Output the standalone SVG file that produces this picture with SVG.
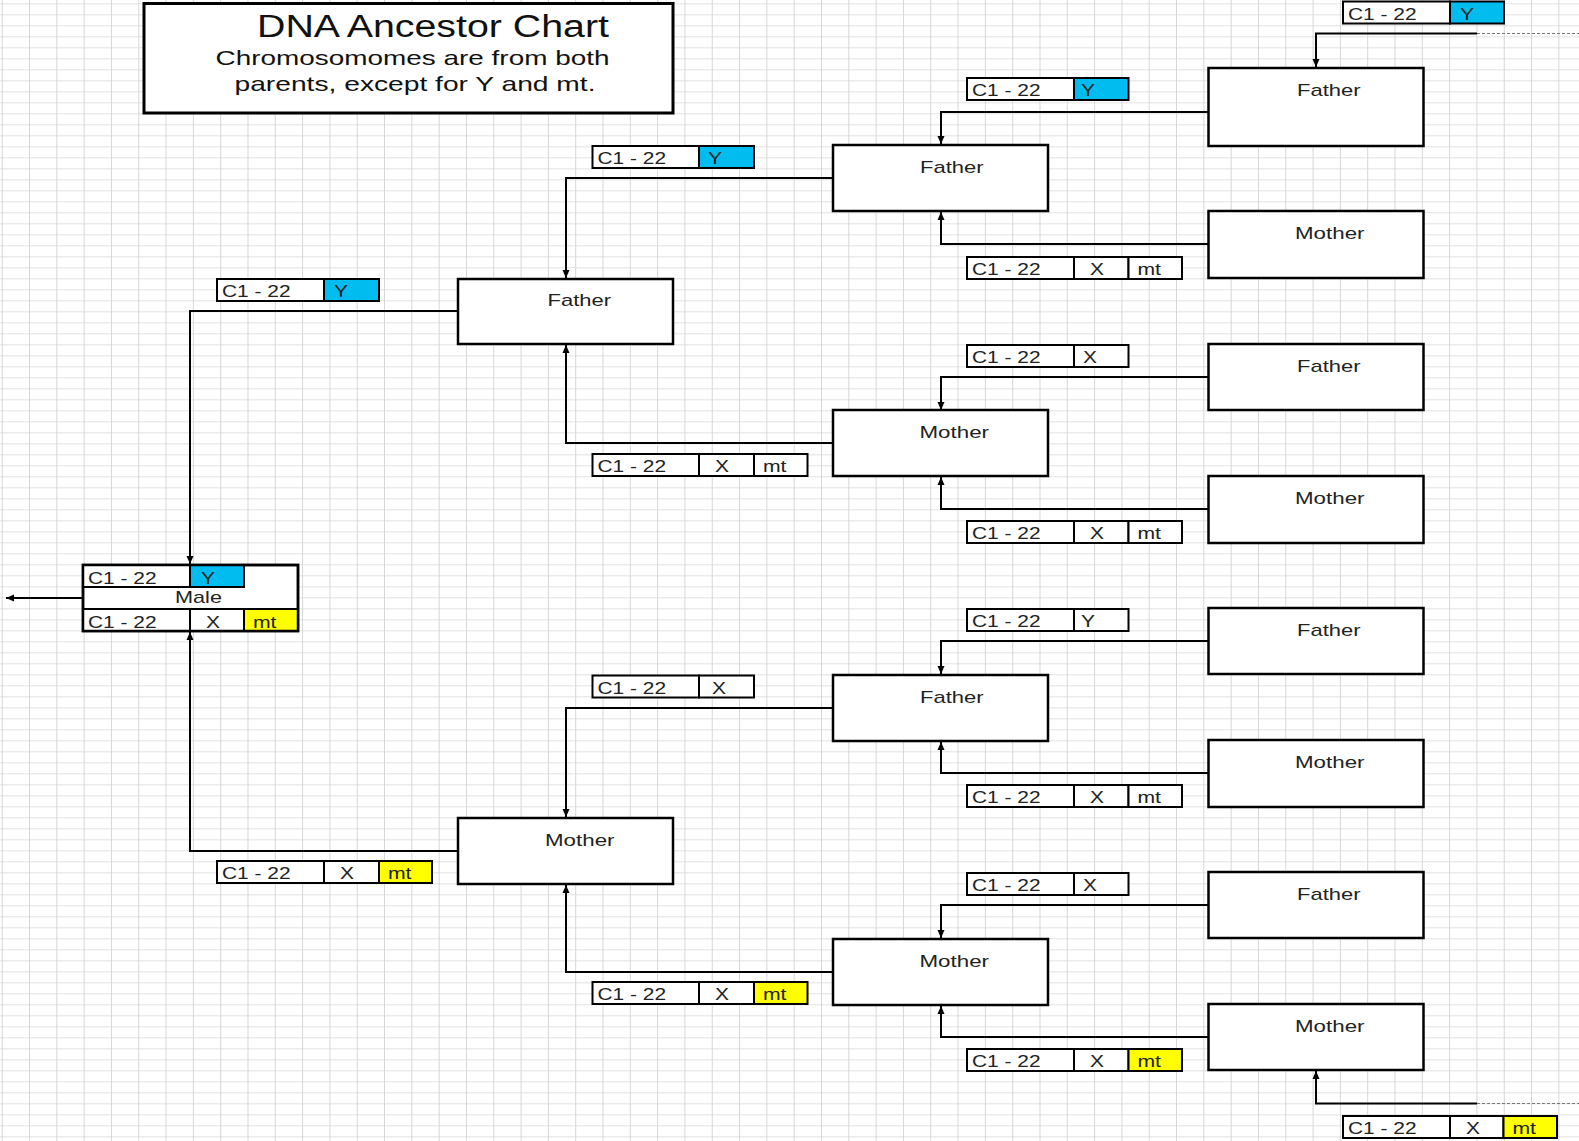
<svg xmlns="http://www.w3.org/2000/svg" width="1579" height="1141" viewBox="0 0 1579 1141">
<defs>
<style>
.box{fill:#fff;stroke:#000;stroke-width:2.5}
.cell{fill:#fff;stroke:#000;stroke-width:2}
.cell.blue{fill:#00BCEF}
.cell.yellow{fill:#FFFF00}
.t{font-family:"Liberation Sans",Arial,sans-serif;font-size:17px;fill:#222}
.conn{fill:none;stroke:#000;stroke-width:2}
.dash{fill:none;stroke:#777;stroke-width:1;stroke-dasharray:3 2}
</style>
<pattern id="grid" x="1.7" y="3.3" width="27.31" height="11" patternUnits="userSpaceOnUse">
<path d="M0,0.5 H27.31" stroke="#e2e2e2" stroke-width="1"/>
<path d="M0.5,0 V11" stroke="#d6d6d6" stroke-width="1"/>
</pattern>
<marker id="arr" markerWidth="9" markerHeight="8" refX="8" refY="4" orient="auto" markerUnits="userSpaceOnUse">
<path d="M0,0.5 L8,4 L0,7.5 z" fill="#000"/>
</marker>
</defs>
<rect width="1579" height="1141" fill="#fff"/>
<rect width="1579" height="1141" fill="url(#grid)"/>

<g id="connectors">
<path class="conn" d="M83,598 H6" marker-end="url(#arr)"/>
<path class="conn" d="M458,311 H190 V564" marker-end="url(#arr)"/>
<path class="conn" d="M458,851 H190 V632" marker-end="url(#arr)"/>
<path class="conn" d="M833,178 H566 V278" marker-end="url(#arr)"/>
<path class="conn" d="M833,443 H566 V345" marker-end="url(#arr)"/>
<path class="conn" d="M833,708 H566 V817" marker-end="url(#arr)"/>
<path class="conn" d="M833,972 H566 V885" marker-end="url(#arr)"/>
<path class="conn" d="M1208,112 H941 V144" marker-end="url(#arr)"/>
<path class="conn" d="M1208,244 H941 V212" marker-end="url(#arr)"/>
<path class="conn" d="M1208,377 H941 V410" marker-end="url(#arr)"/>
<path class="conn" d="M1208,509 H941 V477" marker-end="url(#arr)"/>
<path class="conn" d="M1208,641 H941 V674" marker-end="url(#arr)"/>
<path class="conn" d="M1208,773 H941 V742" marker-end="url(#arr)"/>
<path class="conn" d="M1208,905 H941 V938" marker-end="url(#arr)"/>
<path class="conn" d="M1208,1037 H941 V1006" marker-end="url(#arr)"/>
<path class="conn" d="M1477,33.5 H1316 V67" marker-end="url(#arr)"/>
<path class="conn" d="M1477,1103.5 H1316 V1071" marker-end="url(#arr)"/>
<path class="dash" d="M1477,33.5 H1579"/>
<path class="dash" d="M1477,1103.5 H1579"/>
</g>

<g id="title">
<rect x="144" y="3.5" width="529" height="109.5" fill="#fff" stroke="#000" stroke-width="3"/>
<text x="257" y="37" font-family="Liberation Sans,Arial,sans-serif" font-size="31" fill="#111" textLength="352" lengthAdjust="spacingAndGlyphs">DNA Ancestor Chart</text>
<text x="215.5" y="64.5" font-family="Liberation Sans,Arial,sans-serif" font-size="21" fill="#111" textLength="394" lengthAdjust="spacingAndGlyphs">Chromosomomes are from both</text>
<text x="234.5" y="90.5" font-family="Liberation Sans,Arial,sans-serif" font-size="21" fill="#111" textLength="361" lengthAdjust="spacingAndGlyphs">parents, except for Y and mt.</text>
</g>

<g id="male">
<rect class="box" x="83" y="565" width="215" height="66"/>
<rect class="cell" x="83" y="565" width="107" height="22"/>
<rect class="cell blue" x="190" y="565" width="54" height="22"/>
<rect class="cell" x="83" y="609" width="107" height="22"/>
<rect class="cell" x="190" y="609" width="54" height="22"/>
<rect class="cell yellow" x="244" y="609" width="54" height="22"/>
<rect x="83" y="565" width="215" height="66" fill="none" stroke="#000" stroke-width="2.5"/>
<text class="t" x="88" y="584" textLength="68.5" lengthAdjust="spacingAndGlyphs">C1 - 22</text>
<text class="t" x="201" y="584" textLength="14" lengthAdjust="spacingAndGlyphs">Y</text>
<text class="t" x="175" y="603" textLength="47" lengthAdjust="spacingAndGlyphs">Male</text>
<text class="t" x="88" y="628" textLength="68.5" lengthAdjust="spacingAndGlyphs">C1 - 22</text>
<text class="t" x="206" y="628" textLength="14" lengthAdjust="spacingAndGlyphs">X</text>
<text class="t" x="253" y="628" textLength="23.5" lengthAdjust="spacingAndGlyphs">mt</text>
</g>

<g id="g1-father">
<rect class="box" x="458" y="279" width="215" height="65"/>
<text class="t" x="547.5" y="306" textLength="63.5" lengthAdjust="spacingAndGlyphs">Father</text>
</g>
<g id="g1-mother">
<rect class="box" x="458" y="818" width="215" height="66"/>
<text class="t" x="545" y="846" textLength="69.5" lengthAdjust="spacingAndGlyphs">Mother</text>
</g>

<g id="g2-father-1">
<rect class="box" x="833" y="145" width="215" height="66"/>
<text class="t" x="920" y="173" textLength="63.5" lengthAdjust="spacingAndGlyphs">Father</text>
</g>
<g id="g2-mother-1">
<rect class="box" x="833" y="410" width="215" height="66"/>
<text class="t" x="919.5" y="438" textLength="69.5" lengthAdjust="spacingAndGlyphs">Mother</text>
</g>
<g id="g2-father-2">
<rect class="box" x="833" y="675" width="215" height="66"/>
<text class="t" x="920" y="703" textLength="63.5" lengthAdjust="spacingAndGlyphs">Father</text>
</g>
<g id="g2-mother-2">
<rect class="box" x="833" y="939" width="215" height="66"/>
<text class="t" x="919.5" y="967" textLength="69.5" lengthAdjust="spacingAndGlyphs">Mother</text>
</g>

<g id="g3-father-1">
<rect class="box" x="1208.5" y="68" width="215" height="78"/>
<text class="t" x="1297" y="96" textLength="63.5" lengthAdjust="spacingAndGlyphs">Father</text>
</g>
<g id="g3-mother-1">
<rect class="box" x="1208.5" y="211" width="215" height="67"/>
<text class="t" x="1295" y="239" textLength="69.5" lengthAdjust="spacingAndGlyphs">Mother</text>
</g>
<g id="g3-father-2">
<rect class="box" x="1208.5" y="344" width="215" height="66"/>
<text class="t" x="1297" y="372" textLength="63.5" lengthAdjust="spacingAndGlyphs">Father</text>
</g>
<g id="g3-mother-2">
<rect class="box" x="1208.5" y="476" width="215" height="67"/>
<text class="t" x="1295" y="504" textLength="69.5" lengthAdjust="spacingAndGlyphs">Mother</text>
</g>
<g id="g3-father-3">
<rect class="box" x="1208.5" y="608" width="215" height="66"/>
<text class="t" x="1297" y="636" textLength="63.5" lengthAdjust="spacingAndGlyphs">Father</text>
</g>
<g id="g3-mother-3">
<rect class="box" x="1208.5" y="740" width="215" height="67"/>
<text class="t" x="1295" y="768" textLength="69.5" lengthAdjust="spacingAndGlyphs">Mother</text>
</g>
<g id="g3-father-4">
<rect class="box" x="1208.5" y="872" width="215" height="66"/>
<text class="t" x="1297" y="900" textLength="63.5" lengthAdjust="spacingAndGlyphs">Father</text>
</g>
<g id="g3-mother-4">
<rect class="box" x="1208.5" y="1004" width="215" height="66"/>
<text class="t" x="1295" y="1032" textLength="69.5" lengthAdjust="spacingAndGlyphs">Mother</text>
</g>

<g id="lbl-g1-father">
<rect class="cell" x="217" y="279" width="107" height="22"/>
<rect class="cell blue" x="324" y="279" width="55" height="22"/>
<text class="t" x="222" y="297" textLength="68.5" lengthAdjust="spacingAndGlyphs">C1 - 22</text>
<text class="t" x="334" y="297" textLength="14" lengthAdjust="spacingAndGlyphs">Y</text>
</g>
<g id="lbl-g1-mother">
<rect class="cell" x="217" y="861" width="107" height="22"/>
<rect class="cell" x="324" y="861" width="55" height="22"/>
<rect class="cell yellow" x="379" y="861" width="53" height="22"/>
<text class="t" x="222" y="879" textLength="68.5" lengthAdjust="spacingAndGlyphs">C1 - 22</text>
<text class="t" x="340" y="879" textLength="14" lengthAdjust="spacingAndGlyphs">X</text>
<text class="t" x="388" y="879" textLength="23.5" lengthAdjust="spacingAndGlyphs">mt</text>
</g>

<g id="lbl-g2-1">
<rect class="cell" x="592.5" y="146" width="106.5" height="22"/>
<rect class="cell blue" x="699" y="146" width="55" height="22"/>
<text class="t" x="597.5" y="164" textLength="68.5" lengthAdjust="spacingAndGlyphs">C1 - 22</text>
<text class="t" x="708" y="164" textLength="14" lengthAdjust="spacingAndGlyphs">Y</text>
</g>
<g id="lbl-g2-2">
<rect class="cell" x="592.5" y="454" width="106.5" height="22"/>
<rect class="cell" x="699" y="454" width="55" height="22"/>
<rect class="cell" x="754" y="454" width="53.5" height="22"/>
<text class="t" x="597.5" y="472" textLength="68.5" lengthAdjust="spacingAndGlyphs">C1 - 22</text>
<text class="t" x="715" y="472" textLength="14" lengthAdjust="spacingAndGlyphs">X</text>
<text class="t" x="763" y="472" textLength="23.5" lengthAdjust="spacingAndGlyphs">mt</text>
</g>
<g id="lbl-g2-3">
<rect class="cell" x="592.5" y="675.5" width="106.5" height="22"/>
<rect class="cell" x="699" y="675.5" width="55" height="22"/>
<text class="t" x="597.5" y="693.5" textLength="68.5" lengthAdjust="spacingAndGlyphs">C1 - 22</text>
<text class="t" x="712" y="693.5" textLength="14" lengthAdjust="spacingAndGlyphs">X</text>
</g>
<g id="lbl-g2-4">
<rect class="cell" x="592.5" y="982" width="106.5" height="22"/>
<rect class="cell" x="699" y="982" width="55" height="22"/>
<rect class="cell yellow" x="754" y="982" width="53.5" height="22"/>
<text class="t" x="597.5" y="1000" textLength="68.5" lengthAdjust="spacingAndGlyphs">C1 - 22</text>
<text class="t" x="715" y="1000" textLength="14" lengthAdjust="spacingAndGlyphs">X</text>
<text class="t" x="763" y="1000" textLength="23.5" lengthAdjust="spacingAndGlyphs">mt</text>
</g>

<g id="lbl-g3-1">
<rect class="cell" x="967" y="78" width="107" height="22"/>
<rect class="cell blue" x="1074" y="78" width="54.5" height="22"/>
<text class="t" x="972" y="96" textLength="68.5" lengthAdjust="spacingAndGlyphs">C1 - 22</text>
<text class="t" x="1081" y="96" textLength="14" lengthAdjust="spacingAndGlyphs">Y</text>
</g>
<g id="lbl-g3-2">
<rect class="cell" x="967" y="257" width="107" height="22"/>
<rect class="cell" x="1074" y="257" width="54.5" height="22"/>
<rect class="cell" x="1128.5" y="257" width="53.5" height="22"/>
<text class="t" x="972" y="275" textLength="68.5" lengthAdjust="spacingAndGlyphs">C1 - 22</text>
<text class="t" x="1090" y="275" textLength="14" lengthAdjust="spacingAndGlyphs">X</text>
<text class="t" x="1137.5" y="275" textLength="23.5" lengthAdjust="spacingAndGlyphs">mt</text>
</g>
<g id="lbl-g3-3">
<rect class="cell" x="967" y="345" width="107" height="22"/>
<rect class="cell" x="1074" y="345" width="54.5" height="22"/>
<text class="t" x="972" y="363" textLength="68.5" lengthAdjust="spacingAndGlyphs">C1 - 22</text>
<text class="t" x="1083" y="363" textLength="14" lengthAdjust="spacingAndGlyphs">X</text>
</g>
<g id="lbl-g3-4">
<rect class="cell" x="967" y="521" width="107" height="22"/>
<rect class="cell" x="1074" y="521" width="54.5" height="22"/>
<rect class="cell" x="1128.5" y="521" width="53.5" height="22"/>
<text class="t" x="972" y="539" textLength="68.5" lengthAdjust="spacingAndGlyphs">C1 - 22</text>
<text class="t" x="1090" y="539" textLength="14" lengthAdjust="spacingAndGlyphs">X</text>
<text class="t" x="1137.5" y="539" textLength="23.5" lengthAdjust="spacingAndGlyphs">mt</text>
</g>
<g id="lbl-g3-5">
<rect class="cell" x="967" y="609" width="107" height="22"/>
<rect class="cell" x="1074" y="609" width="54.5" height="22"/>
<text class="t" x="972" y="627" textLength="68.5" lengthAdjust="spacingAndGlyphs">C1 - 22</text>
<text class="t" x="1081" y="627" textLength="14" lengthAdjust="spacingAndGlyphs">Y</text>
</g>
<g id="lbl-g3-6">
<rect class="cell" x="967" y="785" width="107" height="22"/>
<rect class="cell" x="1074" y="785" width="54.5" height="22"/>
<rect class="cell" x="1128.5" y="785" width="53.5" height="22"/>
<text class="t" x="972" y="803" textLength="68.5" lengthAdjust="spacingAndGlyphs">C1 - 22</text>
<text class="t" x="1090" y="803" textLength="14" lengthAdjust="spacingAndGlyphs">X</text>
<text class="t" x="1137.5" y="803" textLength="23.5" lengthAdjust="spacingAndGlyphs">mt</text>
</g>
<g id="lbl-g3-7">
<rect class="cell" x="967" y="873" width="107" height="22"/>
<rect class="cell" x="1074" y="873" width="54.5" height="22"/>
<text class="t" x="972" y="891" textLength="68.5" lengthAdjust="spacingAndGlyphs">C1 - 22</text>
<text class="t" x="1083" y="891" textLength="14" lengthAdjust="spacingAndGlyphs">X</text>
</g>
<g id="lbl-g3-8">
<rect class="cell" x="967" y="1049" width="107" height="22"/>
<rect class="cell" x="1074" y="1049" width="54.5" height="22"/>
<rect class="cell yellow" x="1128.5" y="1049" width="53.5" height="22"/>
<text class="t" x="972" y="1067" textLength="68.5" lengthAdjust="spacingAndGlyphs">C1 - 22</text>
<text class="t" x="1090" y="1067" textLength="14" lengthAdjust="spacingAndGlyphs">X</text>
<text class="t" x="1137.5" y="1067" textLength="23.5" lengthAdjust="spacingAndGlyphs">mt</text>
</g>

<g id="lbl-top">
<rect class="cell" x="1343" y="1.5" width="107" height="22"/>
<rect class="cell blue" x="1450" y="1.5" width="54" height="22"/>
<text class="t" x="1348" y="19.5" textLength="68.5" lengthAdjust="spacingAndGlyphs">C1 - 22</text>
<text class="t" x="1460" y="19.5" textLength="14" lengthAdjust="spacingAndGlyphs">Y</text>
</g>
<g id="lbl-bottom">
<rect class="cell" x="1343" y="1116" width="107" height="22"/>
<rect class="cell" x="1450" y="1116" width="53.5" height="22"/>
<rect class="cell yellow" x="1503.5" y="1116" width="53.5" height="22"/>
<text class="t" x="1348" y="1134" textLength="68.5" lengthAdjust="spacingAndGlyphs">C1 - 22</text>
<text class="t" x="1466" y="1134" textLength="14" lengthAdjust="spacingAndGlyphs">X</text>
<text class="t" x="1512.5" y="1134" textLength="23.5" lengthAdjust="spacingAndGlyphs">mt</text>
</g>
</svg>
